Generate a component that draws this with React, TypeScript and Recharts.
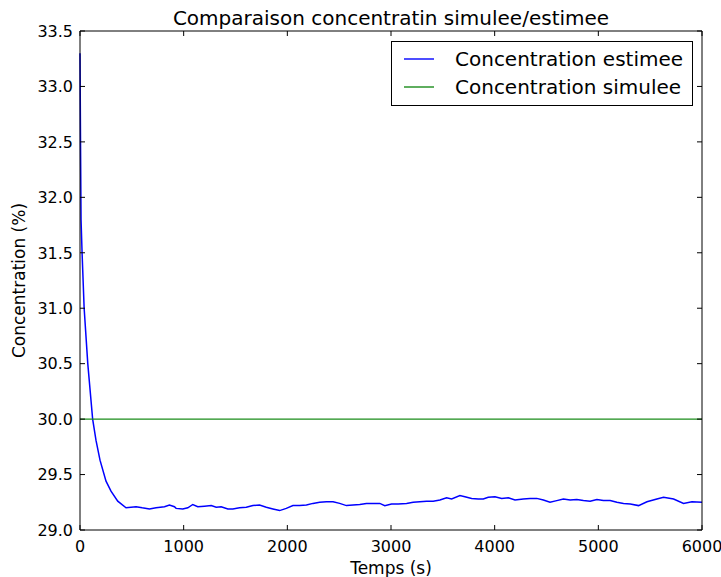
import { Legend, Line, LineChart, XAxis, YAxis } from "recharts";

// temps (s) et concentration estimee (%)
const temps = [
  0, 5, 10, 20, 40, 75, 122, 154, 193, 251, 299, 364, 444, 541, 600, 670, 734, 815, 863, 911,
  927, 991, 1040, 1088, 1136, 1201, 1266, 1314, 1362, 1426, 1474, 1539, 1604, 1668, 1732, 1797,
  1861, 1926, 1990, 2054, 2119, 2184, 2247, 2312, 2377, 2441, 2505, 2570, 2634, 2699, 2763,
  2827, 2892, 2940, 3005, 3069, 3150, 3214, 3278, 3343, 3407, 3472, 3536, 3585, 3665, 3713,
  3778, 3842, 3890, 3938, 4003, 4068, 4132, 4196, 4276, 4341, 4406, 4470, 4534, 4599, 4663,
  4728, 4792, 4856, 4921, 4986, 5049, 5114, 5179, 5243, 5308, 5388, 5469, 5565, 5629, 5726,
  5822, 5903, 6000,
];
const estimee = [
  33.3, 32.5, 31.8, 31.5, 31.0, 30.5, 30.0, 29.81, 29.63, 29.44, 29.35, 29.26, 29.2, 29.21,
  29.2, 29.19, 29.2, 29.21, 29.225, 29.21, 29.195, 29.19, 29.2, 29.23, 29.21, 29.215, 29.22,
  29.205, 29.21, 29.19, 29.19, 29.2, 29.205, 29.22, 29.225, 29.205, 29.19, 29.175, 29.195,
  29.22, 29.22, 29.225, 29.24, 29.25, 29.255, 29.255, 29.24, 29.22, 29.225, 29.23, 29.24,
  29.24, 29.24, 29.22, 29.235, 29.235, 29.24, 29.25, 29.255, 29.26, 29.26, 29.27, 29.29,
  29.28, 29.31, 29.3, 29.285, 29.28, 29.28, 29.295, 29.3, 29.285, 29.29, 29.27, 29.28, 29.285,
  29.285, 29.27, 29.25, 29.265, 29.28, 29.27, 29.275, 29.265, 29.26, 29.275, 29.265, 29.265,
  29.25, 29.24, 29.235, 29.22, 29.255, 29.28, 29.295, 29.28, 29.24, 29.255, 29.25,
];

// concentration simulee (constante)
const tempsSimulee = [0, 6000];
const simulee = [30, 30];

const xTicks = [0, 1000, 2000, 3000, 4000, 5000, 6000];
const yTicks = [29, 29.5, 30, 30.5, 31, 31.5, 32, 32.5, 33, 33.5];

const estimeeData = temps.map((t, i) => ({ t, estimee: estimee[i] }));
const simuleeData = tempsSimulee.map((t, i) => ({ t, simulee: simulee[i] }));

const FONT = "'DejaVu Sans', sans-serif";
const TICK_LEN = 5;

const BottomTick = (props: any) => {
  const { x, y, payload } = props;
  return (
    <g>
      <line x1={x} x2={x} y1={y} y2={y - TICK_LEN} stroke="#000" />
      <text x={x} y={y + 21.5} textAnchor="middle" fontSize={16} fontFamily={FONT} fill="#000">
        {payload.value}
      </text>
    </g>
  );
};

const TopTick = (props: any) => {
  const { x, y } = props;
  return <line x1={x} x2={x} y1={y} y2={y + TICK_LEN} stroke="#000" />;
};

const LeftTick = (props: any) => {
  const { x, y, payload } = props;
  return (
    <g>
      <line x1={x} x2={x + TICK_LEN} y1={y} y2={y} stroke="#000" />
      <text x={x - 7} y={y + 5.8} textAnchor="end" fontSize={16} fontFamily={FONT} fill="#000">
        {Number(payload.value).toFixed(1)}
      </text>
    </g>
  );
};

const RightTick = (props: any) => {
  const { x, y } = props;
  return <line x1={x} x2={x - TICK_LEN} y1={y} y2={y} stroke="#000" />;
};

const LegendBox = (props: any) => {
  const { payload } = props;
  return (
    <div
      style={{
        width: 300,
        height: 63,
        border: "1px solid #000",
        background: "#fff",
        fontFamily: FONT,
        fontSize: 20,
        boxSizing: "content-box",
        textAlign: "left",
      }}
    >
      {payload.map((entry: any, i: number) => (
        <div
          key={entry.value}
          style={{ display: "flex", alignItems: "center", height: 27.7, marginTop: i === 0 ? 3 : 0 }}
        >
          <svg width={63} height={10} style={{ flex: "none" }}>
            <line x1={12} x2={42} y1={5} y2={5} stroke={entry.color} strokeWidth={1.4} />
          </svg>
          <span style={{ color: "#000", whiteSpace: "nowrap", lineHeight: "20px" }}>{entry.value}</span>
        </div>
      ))}
    </div>
  );
};

const App = () => {
  return (
    <div style={{ position: "absolute", left: 0, top: 0, width: 721, height: 577, background: "#fff" }}>
      <div
        style={{
          position: "absolute",
          left: 80,
          top: 8,
          width: 622,
          textAlign: "center",
          fontFamily: FONT,
          fontSize: 20,
          lineHeight: "20px",
          color: "#000",
          zIndex: 2,
        }}
      >
        Comparaison concentratin simulee/estimee
      </div>
      <LineChart width={721} height={577} margin={{ top: 30, right: 18, bottom: 0, left: 0 }}>
        <XAxis
          dataKey="t"
          type="number"
          domain={[0, 6000]}
          ticks={xTicks}
          tickSize={0}
          tickMargin={0}
          tick={<BottomTick />}
          height={47}
          axisLine={{ stroke: "#000" }}
          tickLine={false}
          label={{ value: "Temps (s)", position: "insideBottom", offset: 3, fontSize: 17, fontFamily: FONT, fill: "#000" }}
        />
        <XAxis
          xAxisId="top"
          dataKey="t"
          orientation="top"
          type="number"
          domain={[0, 6000]}
          ticks={xTicks}
          tickSize={0}
          tickMargin={0}
          tick={<TopTick />}
          height={1}
          axisLine={{ stroke: "#000" }}
          tickLine={false}
        />
        <YAxis
          type="number"
          domain={[29, 33.5]}
          ticks={yTicks}
          tickSize={0}
          tickMargin={0}
          tick={<LeftTick />}
          width={80}
          axisLine={{ stroke: "#000" }}
          tickLine={false}
          allowDataOverflow
          label={{
            value: "Concentration (%)",
            angle: -90,
            position: "insideLeft",
            offset: 19,
            fontSize: 17,
            fontFamily: FONT,
            fill: "#000",
            style: { textAnchor: "middle" },
          }}
        />
        <YAxis
          yAxisId="right"
          orientation="right"
          type="number"
          domain={[29, 33.5]}
          ticks={yTicks}
          tickSize={0}
          tickMargin={0}
          tick={<RightTick />}
          width={1}
          axisLine={{ stroke: "#000" }}
          tickLine={false}
          allowDataOverflow
        />
        <Line
          data={estimeeData}
          dataKey="estimee"
          name="Concentration estimee"
          type="linear"
          stroke="#0000ff"
          strokeWidth={1.5}
          dot={false}
          isAnimationActive={false}
        />
        <Line
          data={simuleeData}
          xAxisId="top"
          yAxisId="right"
          dataKey="simulee"
          name="Concentration simulee"
          type="linear"
          stroke="#1a8c1a"
          strokeWidth={1.4}
          dot={false}
          isAnimationActive={false}
        />
        <Legend
          layout="horizontal"
          verticalAlign="middle"
          align="center"
          content={<LegendBox />}
          wrapperStyle={{ position: "absolute", top: 41, left: 391, width: 302, height: 65 }}
        />
      </LineChart>
    </div>
  );
};

export default App;
